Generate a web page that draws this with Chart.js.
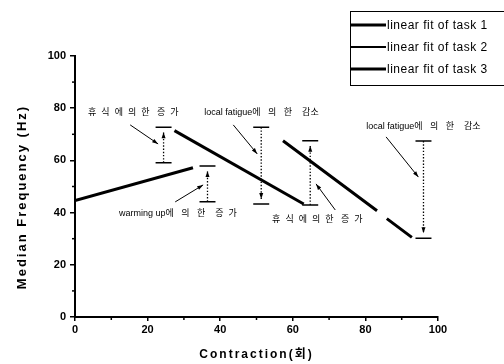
<!DOCTYPE html>
<html>
<head>
<meta charset="utf-8">
<script src="https://cdn.jsdelivr.net/npm/chart.js@4.4.1/dist/chart.umd.min.js"></script>
<style>
html, body { margin: 0; padding: 0; background: #fff; }
</style>
</head>
<body>
<canvas id="chart" width="504" height="364"></canvas>
<script>
// fitted lines
const task1X = [0, 32.5];
const task1Y = [44.6, 57.2];
const task2X = [27.4, 63];
const task2Y = [71.4, 43.3];
const task3X = [57.3, 83.2, 84.5, 85.9, 92.8];
const task3Y = [67.5, 40.7, null, 37.7, 30.5];
const seriesNames = ["linear fit of task 1", "linear fit of task 2", "linear fit of task 3"];

// vertical range markers (cap to cap, dotted arrow)
const markX = [24.4, 36.5, 51.3, 64.8, 96];
const markLow = [59.1, 44.2, 43.3, 42.9, 30.2];
const markHigh = [72.7, 57.9, 72.7, 67.5, 67.4];
const markUp = [true, true, false, true, false];

// text notes and their pointer arrows
const noteText = [
    "휴  식  에  의  한   증  가",
    "local fatigue에   의   한    감소",
    "local fatigue에   의   한    감소",
    "warming up에   의   한    증  가",
    "휴  식  에  의  한   증  가"
];
const noteX = [3.6, 35.6, 80.2, 12.1, 54.3];
const noteY = [78.2, 78.2, 72.8, 39.6, 37.2];
const arrowFromX = [15.2, 43.6, 85.7, 27.6, 71.7];
const arrowFromY = [73.6, 73.6, 69.0, 44.1, 41.0];
const arrowToX = [22.9, 50.2, 94.6, 35.3, 66.4];
const arrowToY = [66.3, 62.5, 53.6, 50.6, 51.0];

const xTicks = [0, 20, 40, 60, 80, 100];
const yTicks = [0, 20, 40, 60, 80, 100];
const minorTicks = [10, 30, 50, 70, 90];

// legend swatch thickness (task 2 swatch is thinner in the original)
const legendLineWidths = [3, 2, 3];

Chart.defaults.font.family = "'Liberation Sans', Arial, sans-serif";
Chart.defaults.color = "#000";

function pts(xs, ys) {
    return xs.map((v, i) => ({ x: v, y: ys[i] }));
}

// caps as one broken line
const capPts = [];
markX.forEach((v, i) => {
    capPts.push({ x: v - 2.2, y: markLow[i] }, { x: v + 2.2, y: markLow[i] }, { x: v, y: null });
    capPts.push({ x: v - 2.2, y: markHigh[i] }, { x: v + 2.2, y: markHigh[i] }, { x: v, y: null });
});

function arrowHead(ctx, x0, y0, x1, y1, len, wid) {
    const a = Math.atan2(y1 - y0, x1 - x0);
    ctx.beginPath();
    ctx.moveTo(x1, y1);
    ctx.lineTo(x1 - len * Math.cos(a) + wid / 2 * Math.sin(a), y1 - len * Math.sin(a) - wid / 2 * Math.cos(a));
    ctx.lineTo(x1 - len * Math.cos(a) - wid / 2 * Math.sin(a), y1 - len * Math.sin(a) + wid / 2 * Math.cos(a));
    ctx.closePath();
    ctx.fill();
}

const extras = {
    id: "extras",
    afterDatasetsDraw(chart) {
        const { ctx, scales: { x, y } } = chart;
        ctx.save();
        ctx.fillStyle = "#000";
        ctx.strokeStyle = "#000";

        // dotted range arrows
        markX.forEach((v, i) => {
            const px = x.getPixelForValue(v);
            const lo = y.getPixelForValue(markLow[i]);
            const hi = y.getPixelForValue(markHigh[i]);
            const from = markUp[i] ? lo : hi;
            const to = markUp[i] ? hi + 5 : lo - 5;
            ctx.setLineDash([1.4, 1.8]);
            ctx.lineWidth = 1.3;
            ctx.beginPath();
            ctx.moveTo(px, from);
            ctx.lineTo(px, to);
            ctx.stroke();
            ctx.setLineDash([]);
            arrowHead(ctx, px, from, px, to, 6, 4);
        });

        // note pointers
        ctx.lineWidth = 1;
        noteText.forEach((t, i) => {
            const x0 = x.getPixelForValue(arrowFromX[i]), y0 = y.getPixelForValue(arrowFromY[i]);
            const x1 = x.getPixelForValue(arrowToX[i]), y1 = y.getPixelForValue(arrowToY[i]);
            ctx.beginPath();
            ctx.moveTo(x0, y0);
            ctx.lineTo(x1, y1);
            ctx.stroke();
            arrowHead(ctx, x0, y0, x1, y1, 6, 4);
        });

        // note texts
        ctx.font = "9px 'Liberation Sans', 'Noto Sans CJK KR', sans-serif";
        ctx.textAlign = "left";
        ctx.textBaseline = "middle";
        noteText.forEach((t, i) => {
            ctx.fillText(t, x.getPixelForValue(noteX[i]), y.getPixelForValue(noteY[i]));
        });

        // minor ticks
        ctx.lineWidth = 1.5;
        minorTicks.forEach(v => {
            const px = x.getPixelForValue(v);
            ctx.beginPath();
            ctx.moveTo(px, y.bottom);
            ctx.lineTo(px, y.bottom + 3);
            ctx.stroke();
            const py = y.getPixelForValue(v);
            ctx.beginPath();
            ctx.moveTo(x.left - 3, py);
            ctx.lineTo(x.left, py);
            ctx.stroke();
        });
        ctx.restore();
    },
    afterDraw(chart) {
        const { ctx, chartArea } = chart;
        ctx.save();
        ctx.fillStyle = "#000";
        ctx.strokeStyle = "#000";

        // axis titles
        ctx.letterSpacing = "2px";
        ctx.font = "bold 13px 'Liberation Sans', 'Noto Sans CJK KR', sans-serif";
        ctx.textAlign = "center";
        ctx.textBaseline = "middle";
        ctx.save();
        ctx.translate(22, 197);
        ctx.rotate(-Math.PI / 2);
        ctx.fillText("Median Frequency (Hz)", 0, 0);
        ctx.restore();
        ctx.font = "bold 12px 'Liberation Sans', 'Noto Sans CJK KR', sans-serif";
        ctx.fillText("Contraction(회)", (chartArea.left + chartArea.right) / 2, 355);

        // legend box, cut off at the right edge
        ctx.letterSpacing = "0.5px";
        ctx.lineWidth = 1;
        ctx.strokeRect(350.5, 11.5, 170, 74);
        ctx.font = "12px 'Liberation Sans', sans-serif";
        ctx.textAlign = "left";
        chart.data.datasets.slice(0, 3).forEach((ds, i) => {
            const ly = 25 + i * 22;
            ctx.lineWidth = legendLineWidths[i];
            ctx.beginPath();
            ctx.moveTo(351, ly);
            ctx.lineTo(386, ly);
            ctx.stroke();
            ctx.fillText(ds.label, 387, ly + 1);
        });
        ctx.restore();
    }
};

new Chart(document.getElementById("chart"), {
    type: "scatter",
    data: {
        datasets: [
            { label: seriesNames[0], data: pts(task1X, task1Y), showLine: true, borderColor: "#000", borderWidth: 3, pointRadius: 0 },
            { label: seriesNames[1], data: pts(task2X, task2Y), showLine: true, borderColor: "#000", borderWidth: 3, pointRadius: 0 },
            { label: seriesNames[2], data: pts(task3X, task3Y), showLine: true, borderColor: "#000", borderWidth: 3, pointRadius: 0, spanGaps: false },
            { label: "caps", data: capPts, showLine: true, borderColor: "#000", borderWidth: 1.5, pointRadius: 0, spanGaps: false }
        ]
    },
    options: {
        responsive: false,
        animation: false,
        devicePixelRatio: 1,
        layout: { padding: { left: 0, top: 56, right: 66, bottom: 0 } },
        plugins: {
            legend: { display: false },
            tooltip: { enabled: false }
        },
        scales: {
            x: {
                type: "linear",
                min: 0,
                max: 100,
                afterBuildTicks: s => { s.ticks = xTicks.map(v => ({ value: v })); },
                afterFit: s => { s.height = 47; },
                border: { color: "#000", width: 2 },
                grid: { drawOnChartArea: false, drawTicks: true, tickLength: 4, color: "#000", lineWidth: 1.5 },
                ticks: { font: { size: 11, weight: "bold" }, padding: 2, color: "#000", maxRotation: 0 }
            },
            y: {
                min: 0,
                max: 100,
                afterBuildTicks: s => { s.ticks = yTicks.map(v => ({ value: v })); },
                afterFit: s => { s.width = 75; },
                border: { color: "#000", width: 2 },
                grid: { drawOnChartArea: false, drawTicks: true, tickLength: 5, color: "#000", lineWidth: 1.5 },
                ticks: { font: { size: 11, weight: "bold" }, padding: 4, color: "#000" }
            }
        }
    },
    plugins: [extras]
});
</script>
</body>
</html>
